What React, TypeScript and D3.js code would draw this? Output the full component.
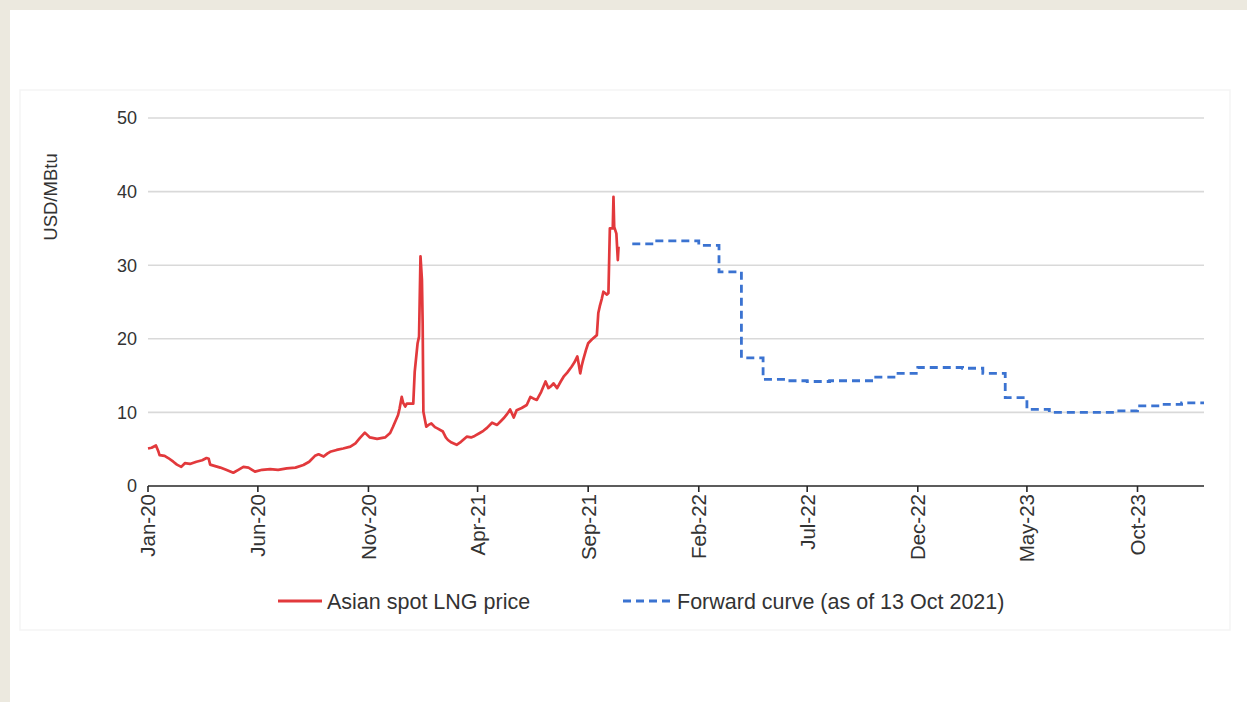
import React from "react";
import * as d3 from "d3";

// Canvas
const W = 1247;
const H = 702;

// Axis ticks
const yTicks = [0, 10, 20, 30, 40, 50];
const xTickLabels = [
  "Jan-20", "Jun-20", "Nov-20", "Apr-21", "Sep-21",
  "Feb-22", "Jul-22", "Dec-22", "May-23", "Oct-23",
];

// Asian spot LNG price, USD/MBtu
const spotPrice: [string, number][] = [
  ["2020-01-01", 5.1], ["2020-01-06", 5.2], ["2020-01-12", 5.5], ["2020-01-15", 4.8],
  ["2020-01-17", 4.2], ["2020-01-24", 4.1], ["2020-01-29", 3.8], ["2020-02-05", 3.3],
  ["2020-02-10", 2.9], ["2020-02-16", 2.6], ["2020-02-21", 3.1], ["2020-02-28", 3.0],
  ["2020-03-08", 3.3], ["2020-03-16", 3.5], ["2020-03-22", 3.8], ["2020-03-25", 3.7],
  ["2020-03-27", 2.9], ["2020-04-03", 2.7], ["2020-04-10", 2.5], ["2020-04-18", 2.2],
  ["2020-04-28", 1.8], ["2020-05-05", 2.2], ["2020-05-12", 2.6], ["2020-05-19", 2.5],
  ["2020-05-24", 2.2], ["2020-05-28", 1.95], ["2020-06-07", 2.2], ["2020-06-18", 2.3],
  ["2020-06-29", 2.2], ["2020-07-11", 2.4], ["2020-07-23", 2.5], ["2020-08-03", 2.85],
  ["2020-08-11", 3.3], ["2020-08-19", 4.1], ["2020-08-24", 4.3], ["2020-08-31", 4.0],
  ["2020-09-05", 4.4], ["2020-09-09", 4.65], ["2020-09-18", 4.9], ["2020-09-27", 5.1],
  ["2020-10-07", 5.35], ["2020-10-14", 5.8], ["2020-10-20", 6.5], ["2020-10-27", 7.25],
  ["2020-11-03", 6.6], ["2020-11-13", 6.4], ["2020-11-24", 6.6], ["2020-12-01", 7.2],
  ["2020-12-05", 8.05], ["2020-12-12", 9.65], ["2020-12-14", 10.5], ["2020-12-17", 12.1],
  ["2020-12-19", 11.3], ["2020-12-22", 10.8], ["2020-12-24", 11.2], ["2021-01-02", 11.2],
  ["2021-01-04", 15.5], ["2021-01-08", 19.4], ["2021-01-10", 20.3], ["2021-01-12", 31.2],
  ["2021-01-14", 28.0], ["2021-01-15", 22.1], ["2021-01-16", 10.1], ["2021-01-20", 8.05],
  ["2021-01-23", 8.3], ["2021-01-27", 8.5], ["2021-02-01", 8.0], ["2021-02-05", 7.8],
  ["2021-02-12", 7.4], ["2021-02-16", 6.6], ["2021-02-19", 6.25], ["2021-02-24", 5.9],
  ["2021-03-03", 5.6], ["2021-03-09", 6.0], ["2021-03-17", 6.7], ["2021-03-23", 6.6],
  ["2021-03-28", 6.8], ["2021-04-04", 7.2], ["2021-04-09", 7.5], ["2021-04-14", 7.9],
  ["2021-04-21", 8.6], ["2021-04-28", 8.3], ["2021-05-03", 8.8], ["2021-05-07", 9.2],
  ["2021-05-12", 9.8], ["2021-05-16", 10.4], ["2021-05-21", 9.3], ["2021-05-25", 10.3],
  ["2021-06-01", 10.6], ["2021-06-08", 11.0], ["2021-06-13", 12.1], ["2021-06-17", 11.9],
  ["2021-06-22", 11.7], ["2021-06-28", 12.8], ["2021-07-04", 14.2], ["2021-07-08", 13.3],
  ["2021-07-12", 13.6], ["2021-07-15", 13.95], ["2021-07-20", 13.3], ["2021-07-25", 14.2],
  ["2021-07-29", 14.85], ["2021-08-03", 15.4], ["2021-08-09", 16.2], ["2021-08-13", 16.8],
  ["2021-08-17", 17.6], ["2021-08-19", 16.5], ["2021-08-21", 15.3], ["2021-08-23", 16.3],
  ["2021-08-25", 17.1], ["2021-08-29", 18.5], ["2021-09-01", 19.4], ["2021-09-06", 19.9],
  ["2021-09-13", 20.5], ["2021-09-15", 23.5], ["2021-09-17", 24.4], ["2021-09-20", 25.5],
  ["2021-09-22", 26.4], ["2021-09-27", 26.0], ["2021-09-29", 26.2], ["2021-10-01", 35.0],
  ["2021-10-05", 35.0], ["2021-10-06", 39.3], ["2021-10-07", 35.2], ["2021-10-10", 34.3],
  ["2021-10-12", 30.7], ["2021-10-13", 32.5],
];

// Forward curve (as of 13 Oct 2021), monthly contracts
const forwardMonths = [
  "2021-11", "2021-12", "2022-01", "2022-02", "2022-03", "2022-04", "2022-05",
  "2022-06", "2022-07", "2022-08", "2022-09", "2022-10", "2022-11", "2022-12",
  "2023-01", "2023-02", "2023-03", "2023-04", "2023-05", "2023-06", "2023-07",
  "2023-08", "2023-09", "2023-10", "2023-11", "2023-12",
];
const forwardValues = [
  32.9, 33.3, 33.3, 32.7, 29.1, 17.4, 14.5,
  14.3, 14.2, 14.3, 14.3, 14.8, 15.3, 16.1,
  16.1, 16.0, 15.3, 12.0, 10.4, 10.0, 10.0,
  10.0, 10.2, 10.9, 11.1, 11.3,
];

const seriesNames = ["Asian spot LNG price", "Forward curve (as of 13 Oct 2021)"];
const yAxisTitle = "USD/MBtu";

// Styles
const RED = "#e2393c";
const BLUE = "#3b73d1";
const TEXT = "#333333";
const FONT = "'Liberation Sans', Arial, sans-serif";

const plot = { left: 148, right: 1204, top: 118, bottom: 486 };

export default function App() {
  const parseDay = d3.utcParse("%Y-%m-%d");
  const parseMonth = d3.utcParse("%Y-%m");
  const parseTick = d3.utcParse("%b-%y");

  const x = d3
    .scaleUtc()
    .domain([new Date(Date.UTC(2020, 0, 1)), new Date(Date.UTC(2024, 0, 1))])
    .range([plot.left, plot.right]);
  const y = d3.scaleLinear().domain([0, 50]).range([plot.bottom, plot.top]);

  const spot = spotPrice.map(([d, v]) => ({ date: parseDay(d) as Date, value: v }));
  const forward = forwardMonths.map((m, i) => ({ date: parseMonth(m) as Date, value: forwardValues[i] }));
  // extend the last contract to the end of the axis
  forward.push({ date: x.domain()[1], value: forwardValues[forwardValues.length - 1] });

  const line = d3
    .line<{ date: Date; value: number }>()
    .x((d) => x(d.date))
    .y((d) => y(d.value));
  const stepLine = d3
    .line<{ date: Date; value: number }>()
    .x((d) => x(d.date))
    .y((d) => y(d.value))
    .curve(d3.curveStepAfter);

  const xTicks = xTickLabels.map((l) => ({ label: l, date: parseTick(l) as Date }));

  const legendY = 601;

  return (
    <div style={{ position: "fixed", left: 0, top: 0, width: W, height: H, background: "#ece9df" }}>
      <svg width={W} height={H} style={{ display: "block" }}>
        <rect x={10} y={10} width={W - 10} height={H - 10} fill="#ffffff" />
        <rect x={20} y={90} width={1210} height={540} fill="none" stroke="#f5f5f5" strokeWidth={1.5} />

        {/* horizontal gridlines */}
        {yTicks.filter((t) => t > 0).map((t) => (
          <line key={t} x1={plot.left} x2={plot.right} y1={y(t)} y2={y(t)} stroke="#d9d9d9" strokeWidth={1.6} />
        ))}

        {/* y tick labels */}
        {yTicks.map((t) => (
          <text key={t} x={137} y={y(t)} dy="0.36em" textAnchor="end" fontFamily={FONT} fontSize={18} fill={TEXT}>
            {t}
          </text>
        ))}

        <text
          transform={`translate(50,197) rotate(-90)`}
          textAnchor="middle"
          dy="0.36em"
          fontFamily={FONT}
          fontSize={18.5}
          fill={TEXT}
        >
          {yAxisTitle}
        </text>

        {/* x axis */}
        <line x1={plot.left} x2={plot.right} y1={plot.bottom} y2={plot.bottom} stroke="#262626" strokeWidth={1.6} />
        {xTicks.map((t) => (
          <g key={t.label} transform={`translate(${x(t.date)},0)`}>
            <line y1={plot.bottom} y2={plot.bottom + 6} stroke="#262626" strokeWidth={1.6} />
            <text
              transform={`translate(0,${plot.bottom + 8}) rotate(-90)`}
              textAnchor="end"
              dy="0.36em"
              fontFamily={FONT}
              fontSize={20.5}
              fill={TEXT}
            >
              {t.label}
            </text>
          </g>
        ))}

        {/* series */}
        <path d={stepLine(forward) ?? ""} fill="none" stroke={BLUE} strokeWidth={2.8} strokeDasharray="8,5" />
        <path d={line(spot) ?? ""} fill="none" stroke={RED} strokeWidth={2.7} strokeLinejoin="round" />

        {/* legend */}
        <line x1={278} x2={322} y1={legendY} y2={legendY} stroke={RED} strokeWidth={2.8} />
        <text x={327} y={legendY} dy="0.36em" fontFamily={FONT} fontSize={21.5} fill={TEXT}>
          {seriesNames[0]}
        </text>
        <line x1={623} x2={672} y1={legendY} y2={legendY} stroke={BLUE} strokeWidth={2.8} strokeDasharray="8,5" />
        <text x={677} y={legendY} dy="0.36em" fontFamily={FONT} fontSize={21.5} fill={TEXT}>
          {seriesNames[1]}
        </text>
      </svg>
    </div>
  );
}
